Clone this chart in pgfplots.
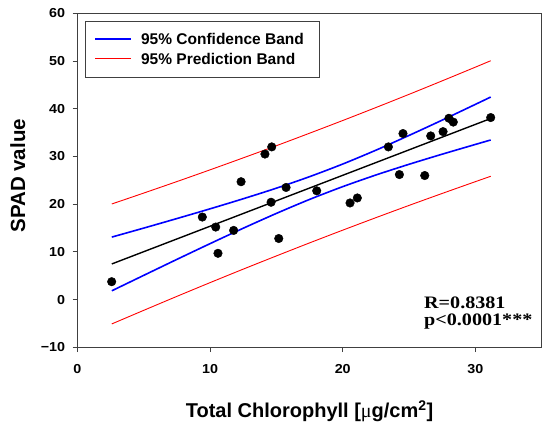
\documentclass[border=0pt]{standalone}
\usepackage{fontspec}
\setmainfont{Liberation Sans}
\newfontfamily\sansS[FakeStretch=1.1]{Liberation Sans}
\newfontfamily\timesS[FakeStretch=1.15]{Liberation Serif}
\newfontfamily\serifmu{Liberation Serif}
\usepackage{pgfplots}
\pgfplotsset{compat=1.18}
\pgfplotstableread{
x y
2.59 3.75
9.42 17.3
10.43 15.2
10.6 9.7
11.78 14.5
12.34 24.7
14.14 30.5
14.65 32.0
14.6 20.4
15.18 12.8
15.73 23.5
18.04 22.8
20.55 20.25
21.1 21.3
23.44 32.0
24.27 26.2
24.54 34.8
26.18 26.0
26.63 34.3
27.56 35.2
28.0 38.0
28.33 37.2
31.15 38.15
}\pts
\begin{document}
\begin{tikzpicture}
\begin{axis}[
  scale only axis, width=464.5bp, height=334bp,
  xmin=0, xmax=35, ymin=-10, ymax=60,
  xtick={0,10,20,30}, ytick={-10,0,10,20,30,40,50,60},
  xticklabels={0,10,20,30},
  yticklabels={−10,0,10,20,30,40,50,60},
  tick align=outside, xtick pos=lower, ytick pos=left,
  major tick length=4.7bp,
  axis line style={draw=black!75, line width=0.8bp},
  every tick/.style={draw=black!75, line width=0.8bp},
  ticklabel style={font=\sansS\bfseries\fontsize{13bp}{15bp}\selectfont},
  yticklabel style={xshift=-4bp},
  xticklabel style={yshift=-9bp},
  xlabel={Total Chlorophyll [{\serifmu\mdseries μ}g/cm\textsuperscript{2}]},
  ylabel={SPAD value},
  xlabel style={at={(axis description cs:0.5,-0.2108)}, anchor=base, inner sep=0pt,
    font=\bfseries\fontsize{20bp}{24bp}\selectfont},
  ylabel style={at={(axis description cs:-0.1126,0.5135)}, anchor=base, inner sep=0pt,
    font=\bfseries\fontsize{20.5bp}{24bp}\selectfont},
  legend style={at={(rel axis cs:0.01658,0.97784)}, anchor=north west,
    draw=black!75, fill=white,
    inner xsep=9bp, inner ysep=8.65bp, row sep=0pt, column sep=9.3bp,
    font=\bfseries\fontsize{15.5bp}{18bp}\selectfont,
    nodes={inner sep=0pt, text height=15.15bp, text depth=4.15bp}},
  legend cell align=left,
  legend image code/.code={\draw[#1] (0bp,0bp) -- (36bp,0bp);},
  clip=false,
]
\addlegendimage{blue, line width=1.6bp}
\addlegendentry{\makebox[169.4bp][l]{95\% Confidence Band}}
\addlegendimage{red, line width=0.9bp}
\addlegendentry{\makebox[169.4bp][l]{95\% Prediction Band}}
\addplot[only marks, mark=*, mark size=4.3bp, black, forget plot] table[x=x,y=y] {\pts};
\addplot[black, line width=1.4bp, forget plot] coordinates {(2.6,7.47) (31.15,37.95)};
\addplot[blue, line width=1.6bp, smooth, forget plot] coordinates {
(2.6,13.10) (5,14.98) (7.5,16.98) (10,19.02) (12.5,21.13) (15,23.35) (17.5,25.76)
(20,28.41) (22.5,31.31) (25,34.41) (27.5,37.62) (30,40.92) (31.15,42.45)};
\addplot[blue, line width=1.6bp, smooth, forget plot] coordinates {
(2.6,1.84) (5,5.07) (7.5,8.42) (10,11.72) (12.5,14.95) (15,18.06) (17.5,20.99)
(20,23.67) (22.5,26.11) (25,28.36) (27.5,30.48) (30,32.52) (31.15,33.45)};
\addplot[red, line width=0.9bp, smooth, forget plot] coordinates {
(2.6,20.04) (5,22.32) (7.5,24.73) (10,27.19) (12.5,29.70) (15,32.25) (17.5,34.87)
(20,37.53) (22.5,40.25) (25,43.02) (27.5,45.85) (30,48.72) (31.15,50.06)};
\addplot[red, line width=0.9bp, smooth, forget plot] coordinates {
(2.6,-5.10) (5,-2.26) (7.5,0.67) (10,3.55) (12.5,6.38) (15,9.15) (17.5,11.88)
(20,14.55) (22.5,17.17) (25,19.74) (27.5,22.25) (30,24.72) (31.15,25.84)};
\node[anchor=base west, inner sep=0pt, font=\timesS\bfseries\fontsize{17.5bp}{20bp}\selectfont]
  at (rel axis cs:0.7464,0.1168) {R=0.8381};
\node[anchor=base west, inner sep=0pt, font=\timesS\bfseries\fontsize{17.5bp}{20bp}\selectfont]
  at (rel axis cs:0.7464,0.0638) {p<0.0001***};
\coordinate (bbBL) at (rel axis cs:-0.16642,-0.24760);
\coordinate (bbTR) at (rel axis cs:1.01765,1.03982);
\end{axis}
\pgfresetboundingbox
\useasboundingbox (bbBL) rectangle (bbTR);
\end{tikzpicture}
\end{document}
